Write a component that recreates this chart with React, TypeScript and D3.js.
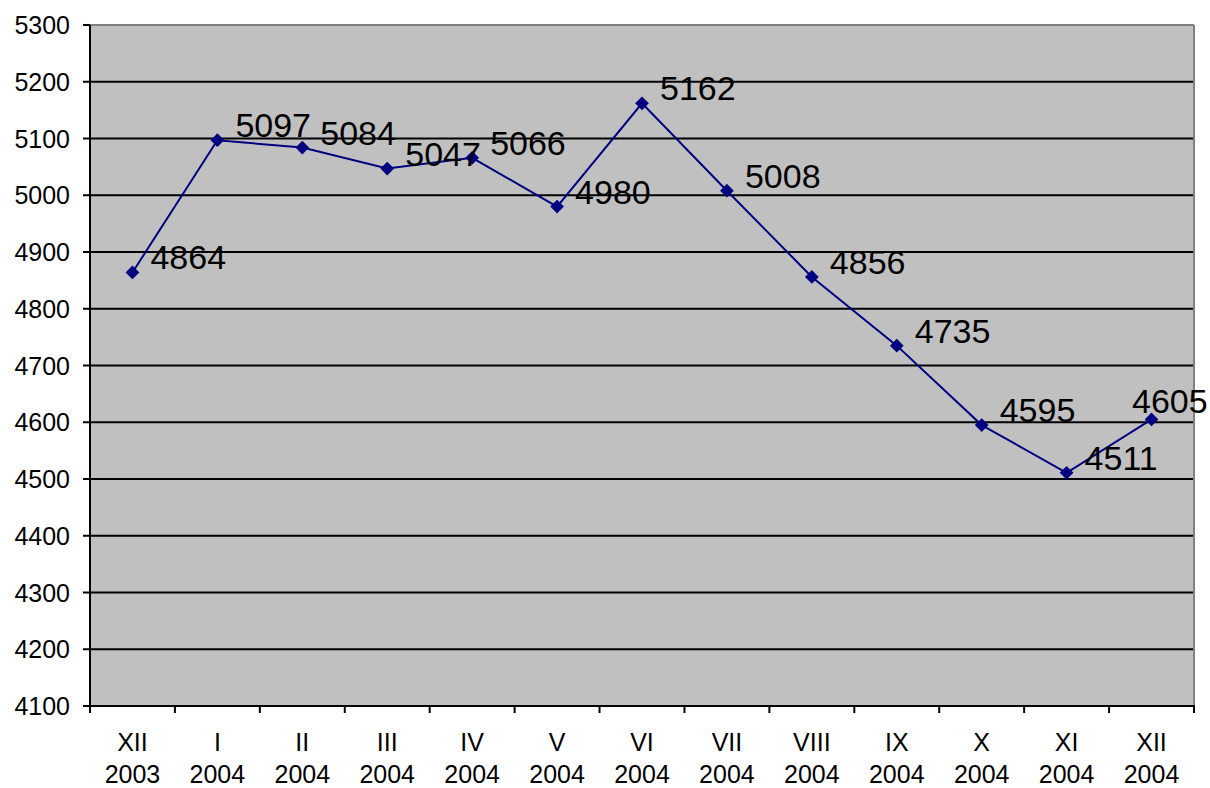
import React from "react";
import * as d3 from "d3";

const months = ["XII", "I", "II", "III", "IV", "V", "VI", "VII", "VIII", "IX", "X", "XI", "XII"];
const years = ["2003", "2004", "2004", "2004", "2004", "2004", "2004", "2004", "2004", "2004", "2004", "2004", "2004"];
const values = [4864, 5097, 5084, 5047, 5066, 4980, 5162, 5008, 4856, 4735, 4595, 4511, 4605];
const yTicks = [4100, 4200, 4300, 4400, 4500, 4600, 4700, 4800, 4900, 5000, 5100, 5200, 5300];

const W = 1210, H = 788;
const L = 90, R = 1194, T = 25, B = 706;
const font = "Arial, 'Liberation Sans', sans-serif";

export default function App() {
  const idx = months.map((_, i) => i);
  const x = d3.scaleBand<number>().domain(idx).range([L, R]);
  const y = d3.scaleLinear().domain([4100, 5300]).range([B, T]);
  const cx = (i: number) => (x(i) as number) + x.bandwidth() / 2;
  const line = d3.line<number>().x((_, i) => cx(i)).y((v) => y(v));
  const labelW = 76;
  return (
    <svg width={W} height={H} style={{ position: "absolute", left: 0, top: 0, background: "#fff" }}>
      <rect x={L} y={T} width={R - L} height={B - T} fill="#C0C0C0" />
      {yTicks.map((t) => (
        <line key={"g" + t} x1={L} x2={R} y1={y(t)} y2={y(t)} stroke="#000" strokeWidth={2} />
      ))}
      <line x1={L} x2={R} y1={T} y2={T} stroke="#808080" strokeWidth={2} />
      <line x1={R} x2={R} y1={T} y2={B} stroke="#808080" strokeWidth={2} />
      <line x1={L} x2={L} y1={T} y2={B + 1} stroke="#000" strokeWidth={2} />
      <line x1={L - 1} x2={R + 1} y1={B} y2={B} stroke="#000" strokeWidth={2} />
      {yTicks.map((t) => (
        <g key={"t" + t}>
          <line x1={L - 7} x2={L} y1={y(t)} y2={y(t)} stroke="#000" strokeWidth={2} />
          <text x={70} y={y(t) + 9} textAnchor="end" fontFamily={font} fontSize={25} fill="#000">{t}</text>
        </g>
      ))}
      {idx.concat([idx.length]).map((i) => {
        const xx = i < idx.length ? (x(i) as number) : R;
        return <line key={"xt" + i} x1={xx} x2={xx} y1={B} y2={B + 7} stroke="#000" strokeWidth={2} />;
      })}
      {idx.map((i) => (
        <g key={"xl" + i}>
          <text x={cx(i)} y={751} textAnchor="middle" fontFamily={font} fontSize={25} fill="#000">{months[i]}</text>
          <text x={cx(i)} y={783} textAnchor="middle" fontFamily={font} fontSize={25} fill="#000">{years[i]}</text>
        </g>
      ))}
      <path d={line(values) || ""} fill="none" stroke="#000080" strokeWidth={2} />
      {values.map((v, i) => (
        <path key={"m" + i} d={d3.symbol(d3.symbolDiamond2, 120)() || ""} transform={`translate(${cx(i)},${y(v)})`} fill="#000080" />
      ))}
      {values.map((v, i) => {
        const lx = Math.min(cx(i) + 18, 1208 - labelW);
        const ly = i === values.length - 1 ? y(v) - 6 : y(v) - 3;
        return (
          <text key={"dl" + i} x={lx} y={ly} fontFamily={font} fontSize={34} fill="#000">{v}</text>
        );
      })}
    </svg>
  );
}
